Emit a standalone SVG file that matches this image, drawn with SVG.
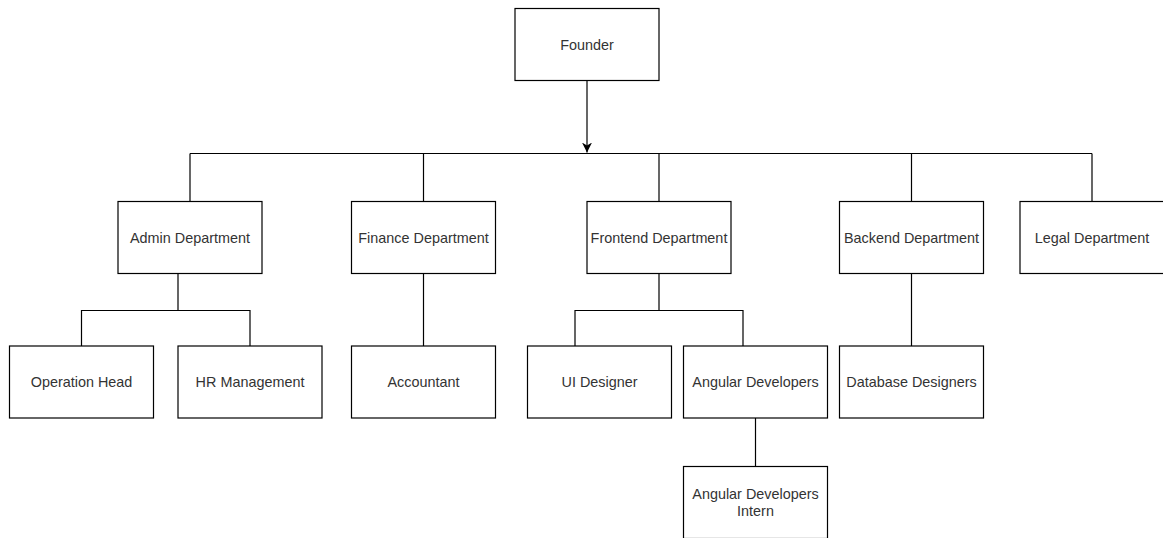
<svg xmlns="http://www.w3.org/2000/svg" width="1163" height="538" viewBox="0 0 1163 538">
<style>
.box{fill:#fff;stroke:#000;stroke-width:1.2}
.c{fill:none;stroke:#000;stroke-width:1.2}
text{font-family:"Liberation Sans",Arial,sans-serif;font-size:14.4px;fill:#333;text-anchor:middle}
</style>
<defs>
<marker id="arr" viewBox="0 0 10 10" refX="10" refY="5" markerWidth="10" markerHeight="10" markerUnits="userSpaceOnUse" orient="auto">
<path d="M0,0 L10,5 L0,10 L3,5 Z" fill="#000"/>
</marker>
</defs>
<rect width="1163" height="538" fill="#fff"/>
<g id="connectors">
<path class="c" d="M587,80.5 V152.5" marker-end="url(#arr)"/>
<path class="c" d="M190,153.5 H1092"/>
<path class="c" d="M190,153.5 V201.5"/>
<path class="c" d="M423.5,153.5 V201.5"/>
<path class="c" d="M659,153.5 V201.5"/>
<path class="c" d="M911.5,153.5 V201.5"/>
<path class="c" d="M1092,153.5 V201.5"/>
<path class="c" d="M178,273.5 V310.5 M81.5,346 V310.5 H250 V346"/>
<path class="c" d="M423.5,273.5 V346"/>
<path class="c" d="M659,273.5 V310.5 M575,346 V310.5 H743 V346"/>
<path class="c" d="M911.5,273.5 V346"/>
<path class="c" d="M755.5,418 V466.5"/>
</g>
<g id="founder"><rect class="box" x="515" y="8.5" width="144" height="72"/><text x="587" y="49.5">Founder</text></g>
<g id="admin"><rect class="box" x="118" y="201.5" width="144" height="72"/><text x="190" y="242.5">Admin Department</text></g>
<g id="finance"><rect class="box" x="351.5" y="201.5" width="144" height="72"/><text x="423.5" y="242.5">Finance Department</text></g>
<g id="frontend"><rect class="box" x="587" y="201.5" width="144" height="72"/><text x="659" y="242.5">Frontend Department</text></g>
<g id="backend"><rect class="box" x="839.5" y="201.5" width="144" height="72"/><text x="911.5" y="242.5">Backend Department</text></g>
<g id="legal"><rect class="box" x="1020" y="201.5" width="144" height="72"/><text x="1092" y="242.5">Legal Department</text></g>
<g id="operation-head"><rect class="box" x="9.5" y="346" width="144" height="72"/><text x="81.5" y="387">Operation Head</text></g>
<g id="hr"><rect class="box" x="178" y="346" width="144" height="72"/><text x="250" y="387">HR Management</text></g>
<g id="accountant"><rect class="box" x="351.5" y="346" width="144" height="72"/><text x="423.5" y="387">Accountant</text></g>
<g id="ui-designer"><rect class="box" x="527.5" y="346" width="144" height="72"/><text x="599.5" y="387">UI Designer</text></g>
<g id="angular-devs"><rect class="box" x="683.5" y="346" width="144" height="72"/><text x="755.5" y="387">Angular Developers</text></g>
<g id="database-designers"><rect class="box" x="839.5" y="346" width="144" height="72"/><text x="911.5" y="387">Database Designers</text></g>
<g id="angular-intern"><rect class="box" x="683.5" y="466.5" width="144" height="72"/><text x="755.5" y="498.5">Angular Developers</text><text x="755.5" y="515.8">Intern</text></g>
</svg>
